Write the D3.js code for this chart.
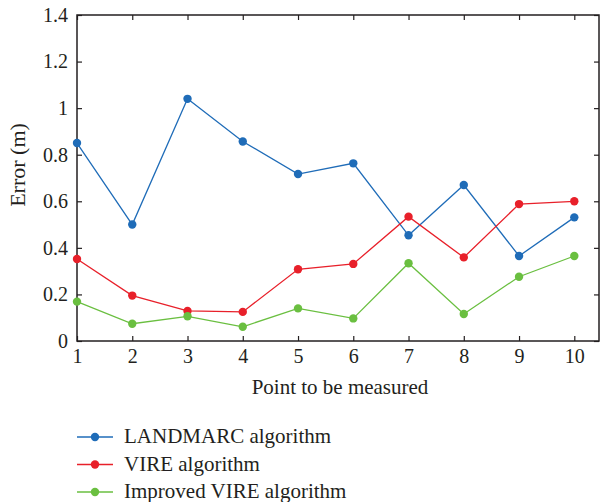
<!DOCTYPE html>
<html><head><meta charset="utf-8">
<script src="https://cdn.jsdelivr.net/npm/d3@7"></script>
<style>body{margin:0;background:#fff}svg{display:block}text{font-family:"Liberation Serif","Times New Roman","DejaVu Serif",serif;fill:#231f20}</style>
</head><body><svg id="c" width="600" height="502"></svg>
<script>
const points = [1,2,3,4,5,6,7,8,9,10];
const landmarc = [0.85,0.50,1.04,0.857,0.717,0.763,0.454,0.67,0.365,0.531];
const vire = [0.352,0.195,0.129,0.125,0.308,0.331,0.534,0.359,0.588,0.600];
const improved = [0.169,0.074,0.106,0.061,0.140,0.097,0.334,0.116,0.276,0.365];
const seriesNames = ["LANDMARC algorithm","VIRE algorithm","Improved VIRE algorithm"];
const colors = ["#1f6cb8","#e8202a","#6abf40"];
const yTicks = [0,0.2,0.4,0.6,0.8,1,1.2,1.4];
const yTickLabels = ["0","0.2","0.4","0.6","0.8","1","1.2","1.4"];

const FONT='"Liberation Serif","Times New Roman","DejaVu Serif",serif';
const svg = d3.select("#c");
const L=77, R=599, T=15, B=341;
const x = d3.scaleLinear().domain([1,10]).range([L,574.3]);
const y = d3.scaleLinear().domain([0,1.4]).range([B,T]);
const axisColor="#231f20";
const g = svg.append("g");

const ax = g.append("g").attr("transform",`translate(0,${B})`).call(d3.axisBottom(x).tickValues(points).tickFormat(d3.format("d")).tickSizeInner(-5).tickSizeOuter(0).tickPadding(8));
const ay = g.append("g").attr("transform",`translate(${L},0)`).call(d3.axisLeft(y).tickValues(yTicks).tickFormat((d,i)=>yTickLabels[i]).tickSizeInner(-5).tickSizeOuter(0).tickPadding(9));
const at = g.append("g").attr("transform",`translate(0,${T})`).call(d3.axisTop(x).tickValues(points).tickFormat("").tickSizeInner(-5).tickSizeOuter(0));
const ar = g.append("g").attr("transform",`translate(${R},0)`).call(d3.axisRight(y).tickValues(yTicks).tickFormat("").tickSizeInner(-5).tickSizeOuter(0));
[ax,ay,at,ar].forEach(a=>{a.attr("font-family",FONT).attr("font-size",20);a.selectAll("path.domain").remove();a.selectAll("line").attr("stroke",axisColor).attr("stroke-width",1.2);a.selectAll("text").attr("fill","#231f20");});
g.append("rect").attr("x",L).attr("y",T).attr("width",R-L).attr("height",B-T).attr("fill","none").attr("stroke",axisColor).attr("stroke-width",1.5);

const data=[landmarc,vire,improved];
const line=d3.line().x((d,i)=>x(points[i])).y(d=>y(d));
data.forEach((s,k)=>{
  g.append("path").datum(s).attr("d",line).attr("fill","none").attr("stroke",colors[k]).attr("stroke-width",1.3);
  g.selectAll(null).data(s).enter().append("circle").attr("cx",(d,i)=>x(points[i])).attr("cy",d=>y(d)).attr("r",4.2).attr("fill",colors[k]);
});

svg.append("text").attr("x",340).attr("y",394).attr("text-anchor","middle").attr("font-family",FONT).attr("font-size",21).text("Point to be measured");
svg.append("text").attr("transform","translate(25,165) rotate(-90)").attr("text-anchor","middle").attr("font-family",FONT).attr("font-size",22).text("Error (m)");

const leg=svg.append("g");
seriesNames.forEach((n,k)=>{
  const yy=437+27.5*k;
  leg.append("line").attr("x1",77).attr("x2",113).attr("y1",yy).attr("y2",yy).attr("stroke",colors[k]).attr("stroke-width",1.3);
  leg.append("circle").attr("cx",95).attr("cy",yy).attr("r",4.2).attr("fill",colors[k]);
  leg.append("text").attr("x",124).attr("y",yy+6).attr("font-family",FONT).attr("font-size",21).text(n);
});
</script></body></html>
